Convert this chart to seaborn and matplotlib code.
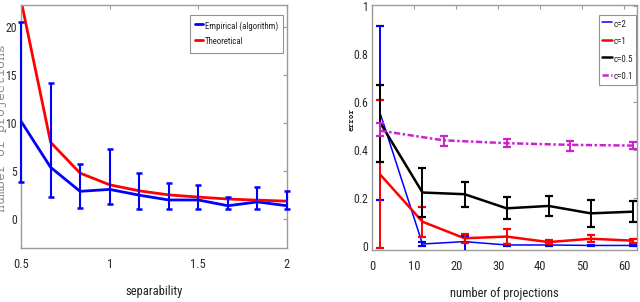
import numpy as np
import pandas as pd
import seaborn as sns
import matplotlib
matplotlib.use("Agg")
import matplotlib.pyplot as plt

# ---------------- data ----------------
sep = [0.5, 0.667, 0.833, 1.0, 1.167, 1.333, 1.5, 1.667, 1.833, 2.0]
emp_mean = [10.2, 5.4, 2.9, 3.1, 2.5, 2.0, 2.0, 1.4, 1.8, 1.4]
emp_low = [3.85, 2.36, 1.15, 1.6, 1.08, 1.04, 1.04, 1.04, 1.04, 1.04]
emp_high = [20.5, 14.2, 5.76, 7.3, 4.8, 3.8, 3.58, 2.36, 3.4, 2.9]
theo = [22.8, 8.0, 4.8, 3.58, 2.95, 2.53, 2.3, 2.1, 1.98, 1.88]

proj = [2, 12, 22, 32, 42, 52, 62]
c2_mean = [0.55, 0.007, 0.017, 0.003, 0.003, 0.001, 0.001]
c2_low = [0.191, 0.0, -0.04, 0.0, 0.0, 0.0, 0.0]
c2_high = [0.916, 0.014, 0.04, 0.006, 0.006, 0.002, 0.002]
c1_mean = [0.296, 0.10, 0.031, 0.038, 0.015, 0.029, 0.021]
c1_low = [-0.011, 0.035, 0.013, 0.007, 0.007, 0.015, 0.013]
c1_high = [0.609, 0.163, 0.049, 0.068, 0.024, 0.043, 0.029]
c05_mean = [0.512, 0.222, 0.215, 0.156, 0.166, 0.135, 0.142]
c05_low = [0.351, 0.121, 0.163, 0.112, 0.124, 0.077, 0.10]
c05_high = [0.669, 0.324, 0.268, 0.202, 0.208, 0.191, 0.187]
proj01 = [2, 17, 32, 47, 62]
c01_mean = [0.48, 0.44, 0.428, 0.421, 0.418]
c01_low = [0.459, 0.417, 0.411, 0.397, 0.404]
c01_high = [0.512, 0.459, 0.445, 0.439, 0.432]

left_xticks = [0.5, 1, 1.5, 2]
left_xticklabels = ["0.5", "1", "1.5", "2"]
left_yticks = [0, 5, 10, 15, 20]
right_xticks = [0, 10, 20, 30, 40, 50, 60]
right_yticks = [0, 0.2, 0.4, 0.6, 0.8, 1]
right_yticklabels = ["0", "0.2", "0.4", "0.6", "0.8", "1"]

# ---------------- style ----------------
sns.set_theme(style="white")
plt.rcParams["font.family"] = ["Roboto Condensed", "Archivo Narrow", "DejaVu Sans"]
mono = ["Courier Prime", "Liberation Mono", "DejaVu Sans Mono"]
TXT = "#2a2a2a"
SPINE = "#9a9a9a"

fig = plt.figure(figsize=(6.4, 3.02), dpi=100)
ax1 = fig.add_axes([21 / 640, 1 - 248 / 302, 266 / 640, 243 / 302])
ax2 = fig.add_axes([372 / 640, 1 - 250 / 302, 265 / 640, 245 / 302])


def style_axes(ax):
    for s in ax.spines.values():
        s.set_visible(True)
        s.set_color(SPINE)
        s.set_linewidth(1.0)
    ax.tick_params(direction="in", top=True, right=True, length=3,
                   width=0.8, color=SPINE, labelcolor=TXT, labelsize=9)
    ax.tick_params(axis="x", pad=7)
    ax.tick_params(axis="y", pad=3, labelsize=8.5)
    ax.grid(False)


def style_legend(leg):
    fr = leg.get_frame()
    fr.set_edgecolor("#777777")
    fr.set_linewidth(0.8)
    for t in leg.get_texts():
        t.set_color("#222222")


# ---------------- left panel ----------------
dfl = pd.DataFrame({"sep": sep, "emp": emp_mean, "theo": theo})
sns.lineplot(data=dfl, x="sep", y="emp", ax=ax1, color="#0000ff", lw=2.0,
             label="Empirical (algorithm)")
sns.lineplot(data=dfl, x="sep", y="theo", ax=ax1, color="#ff0000", lw=2.0,
             label="Theoretical")
em = np.array(emp_mean)
ax1.errorbar(sep, em, yerr=[em - np.array(emp_low), np.array(emp_high) - em],
             fmt="none", ecolor="#0000ff", elinewidth=1.5, capsize=2.5,
             capthick=1.8, clip_on=False, zorder=3)
ax1.set_xlim(0.5, 2.0)
ax1.set_ylim(-3, 22.3)
ax1.set_xticks(left_xticks)
ax1.set_xticklabels(left_xticklabels)
ax1.set_yticks(left_yticks)
style_axes(ax1)
ax1.set_xlabel("separability", fontsize=9, color="#222222", labelpad=10)
ax1.set_ylabel("")
leg1 = ax1.legend(loc="upper right", bbox_to_anchor=(0.985, 0.96),
                  borderaxespad=0, fontsize=6.3, handlelength=0.9,
                  handleheight=1.7, handletextpad=0.15, borderpad=0.6,
                  labelspacing=0.45, frameon=True, fancybox=False)
style_legend(leg1)
fig.text(7.5 / 640, 1 - 128 / 302, "number of projections", rotation=90,
         ha="right", va="center", family=mono, fontsize=9.5,
         color="#8a8a8a")

# ---------------- right panel ----------------
series = [
    (proj, c2_mean, c2_low, c2_high, "#0000ff", "-", 1.1, "c=2"),
    (proj, c1_mean, c1_low, c1_high, "#ff0000", "-", 1.8, "c=1"),
    (proj, c05_mean, c05_low, c05_high, "#000000", "-", 1.8, "c=0.5"),
    (proj01, c01_mean, c01_low, c01_high, "#cc22cc", (0, (2.5, 1, 1, 1)), 1.8, "c=0.1"),
]
for x, m, lo, hi, col, ls, lw, lab in series:
    d = pd.DataFrame({"x": x, "y": m})
    sns.lineplot(data=d, x="x", y="y", ax=ax2, color=col, lw=lw,
                 linestyle=ls, label=lab)
    ma = np.array(m)
    ax2.errorbar(x, ma, yerr=[ma - np.array(lo), np.array(hi) - ma],
                 fmt="none", ecolor=col, elinewidth=1.4, capsize=3.2,
                 capthick=1.6, zorder=3)
ax2.set_xlim(0, 63)
ax2.set_ylim(-0.018, 1.005)
ax2.set_xticks(right_xticks)
ax2.set_yticks(right_yticks)
ax2.set_yticklabels(right_yticklabels)
style_axes(ax2)
ax2.set_xlabel("number of projections", fontsize=9, color="#222222",
               labelpad=10)
ax2.set_ylabel("")
leg2 = ax2.legend(loc="upper right", bbox_to_anchor=(0.996, 0.96),
                  borderaxespad=0, fontsize=6.5, handlelength=1.1,
                  handleheight=1.6, handletextpad=0.15, borderpad=0.35,
                  labelspacing=0.65, frameon=True, fancybox=False)
style_legend(leg2)
fig.text(351 / 640, 1 - 119 / 302, "error", rotation=90, ha="center",
         va="center", family=mono, fontsize=5.5, color="#222222",
         fontweight="bold")

fig.savefig("out.png", dpi=100)
